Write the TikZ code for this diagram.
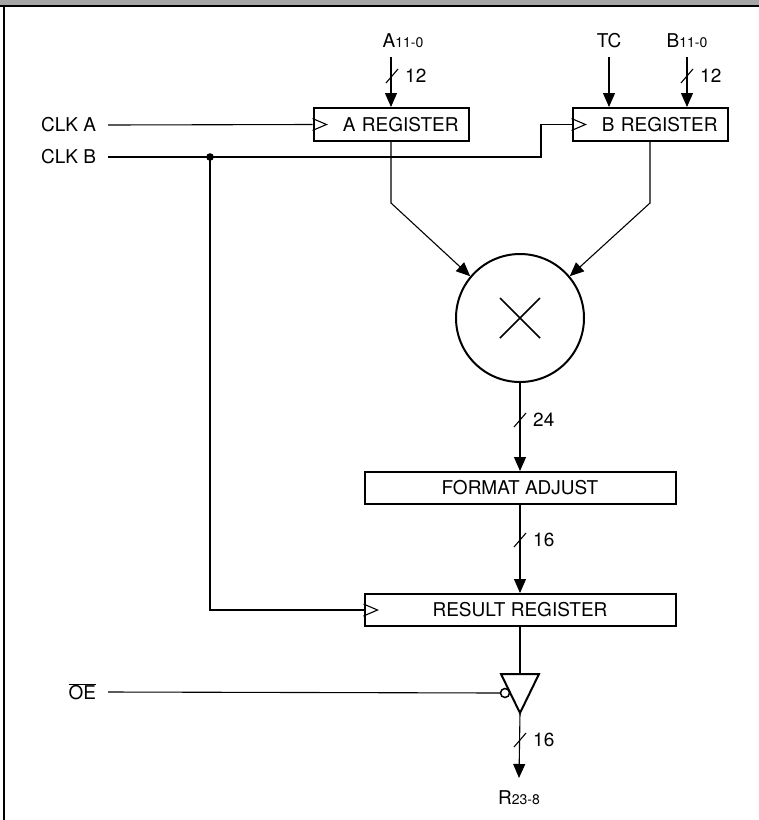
\documentclass[tikz,border=0pt]{standalone}
\usepackage{fontspec}
\setmainfont{TeX Gyre Heros}
\usetikzlibrary{arrows.meta,positioning}
\newcommand{\idx}[1]{{\fontsize{14}{14}\selectfont #1}}

\begin{document}
\begin{tikzpicture}[
    x=1pt, y=-1pt,
    font=\fontsize{19}{21}\selectfont,
    node distance=88pt,
    reg/.style={draw, line width=2pt, minimum height=33pt, text width=135pt,
      align=right, inner xsep=10pt, inner ysep=0pt},
    wide/.style={draw, line width=2pt, minimum height=32pt, minimum width=311pt,
      inner sep=0pt},
    mult/.style={draw, circle, line width=2pt, minimum size=128pt, inner sep=0pt},
    sig/.style={anchor=east, inner sep=0pt, outer xsep=12pt},
    pin/.style={inner sep=0pt, outer sep=9pt},
    wire/.style={line width=1.1pt},
    arr/.style={wire, -{Triangle[length=14pt,width=12pt]}},
    clk/.pic={\draw[wire] (0,-6) -- (14,0) -- (0,6);},
    bus/.pic={\draw[wire] (-6,7) -- (6,-7);
      \node[anchor=west, inner sep=0pt] at (13,0) {#1};}
  ]
  \useasboundingbox (0,0) rectangle (759,820);
  % frame
  \fill[black!35] (0,0) rectangle (759,4.7);
  \draw[line width=2.6pt] (0,6) -- (759,6);
  \draw[line width=2.2pt] (4.3,6) -- (4.3,820);

  % blocks
  \node[reg] (areg) at (391,124.5) {A REGISTER};
  \node[reg] (breg) at (650,124.5) {B REGISTER};
  \node[mult] (mul) at (520,318) {};
  \node[wide, below=of mul] (fmt) {FORMAT ADJUST};
  \node[wide, below=of fmt] (rreg) {RESULT REGISTER};
  \draw[line width=1.5pt] (mul.center) ++(-20,-20) -- ++(40,40) ++(0,-40) -- ++(-40,40);

  % inputs
  \node[pin] (ain) at (403,41) {A\idx{11-0}};
  \node[pin] (tc) at (609,41) {TC};
  \node[pin] (bin) at (687,41) {B\idx{11-0}};
  \draw[arr] (ain.south -| areg.north) -- (areg.north);
  \draw[arr] (tc.south) -- (tc.south |- breg.north);
  \draw[arr] (bin.south) -- (bin.south |- breg.north);
  \pic at (392,76) {bus=12};
  \pic at (687,76) {bus=12};

  % clocks
  \node[sig] (clka) at (108,125) {CLK A};
  \node[sig] (clkb) at (108,157) {CLK B};
  \coordinate (tap) at (210,157);
  \coordinate (jog) at (541,157);
  \draw[wire] (clka.east) -- (areg.west);
  \draw[wire] (clkb.east) -- (jog) |- (breg.west);
  \draw[wire] (tap) |- (rreg.west);
  \fill (tap) circle (3.8);
  \pic at (areg.west) {clk};
  \pic at (breg.west) {clk};
  \pic at (rreg.west) {clk};

  % data path
  \draw[arr] (areg.south) -- ++(0,61) -- (mul.140);
  \draw[arr] (breg.south) -- ++(0,61) -- (mul.40);
  \draw[arr] (mul) -- (fmt);
  \pic at (520,420) {bus=24};
  \draw[arr] (fmt) -- (rreg);
  \pic at (520,540) {bus=16};

  % output buffer
  \coordinate (bufin) at (520,674);
  \coordinate (bufout) at (520,713);
  \draw[line width=2pt, line join=miter] (501,674) -- (539,674) -- (bufout) -- cycle;
  \node[draw, circle, line width=1.5pt, minimum size=9pt, inner sep=0pt] (bub) at (505,693) {};
  \draw[wire] (rreg.south) -- (bufin);
  \node[sig] (oe) at (108,692) {$\overline{\mbox{OE}}$};
  \draw[wire] (oe.east) -- (bub.west);
  \node[inner sep=0pt, outer ysep=13pt] (rout) at (519,798) {R\idx{23-8}};
  \draw[arr] (bufout) -- (rout.north);
  \pic at (520,740) {bus=16};
\end{tikzpicture}
\end{document}
